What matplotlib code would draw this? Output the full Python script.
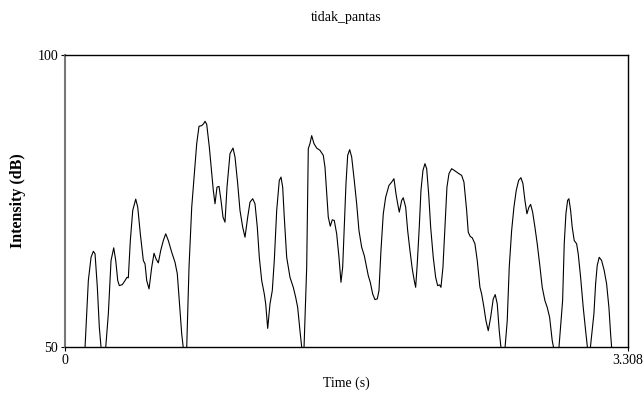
import matplotlib.pyplot as plt

plt.rcParams['font.family'] = ['Liberation Serif', 'DejaVu Serif']

title = 'tidak_pantas'
t_min, t_max = 0, 3.308
db_min, db_max = 50, 100

# intensity contour (values < 50 fall below the frame)
time_s = [0.112, 0.1175, 0.1369, 0.1528, 0.1663, 0.1763, 0.1898, 0.2015, 0.2115, 0.2250,
          0.2391, 0.2544, 0.2703, 0.2861, 0.2979, 0.3097, 0.3191, 0.3367, 0.3525, 0.3643,
          0.3719, 0.3837, 0.3978, 0.4154, 0.4272, 0.4424, 0.4601, 0.4701, 0.4800, 0.4936,
          0.5094, 0.5229, 0.5347, 0.5482, 0.5623, 0.5776, 0.5917, 0.6070, 0.6269, 0.6463,
          0.6598, 0.6716, 0.6857, 0.7080, 0.7151, 0.7286, 0.7445, 0.7597, 0.7738, 0.7873,
          0.8032, 0.8150, 0.8226, 0.8326, 0.8479, 0.8620, 0.8714, 0.8814, 0.8931, 0.9049,
          0.9166, 0.9284, 0.9401, 0.9519, 0.9695, 0.9871, 0.9989, 1.0147, 1.0282, 1.0441,
          1.0576, 1.0735, 1.0870, 1.1029, 1.1164, 1.1299, 1.1417, 1.1558, 1.1710, 1.1793,
          1.1910, 1.2045, 1.2180, 1.2298, 1.2439, 1.2591, 1.2692, 1.2791, 1.2885, 1.3026,
          1.3220, 1.3414, 1.3555, 1.3672, 1.3807, 1.4013, 1.4202, 1.4296, 1.4395, 1.4495,
          1.4630, 1.4789, 1.4983, 1.5177, 1.5277, 1.5377, 1.5471, 1.5588, 1.5706, 1.5823,
          1.5964, 1.6099, 1.6217, 1.6317, 1.6411, 1.6511, 1.6611, 1.6728, 1.6846, 1.6998,
          1.7139, 1.7274, 1.7433, 1.7586, 1.7727, 1.7821, 1.7939, 1.8080, 1.8215, 1.8350,
          1.8450, 1.8567, 1.8703, 1.8844, 1.9037, 1.9196, 1.9331, 1.9449, 1.9549, 1.9643,
          1.9784, 1.9878, 2.0019, 2.0136, 2.0271, 2.0406, 2.0524, 2.0606, 2.0700, 2.0818,
          2.0918, 2.1035, 2.1153, 2.1253, 2.1370, 2.1488, 2.1640, 2.1781, 2.1899, 2.2016,
          2.2093, 2.2210, 2.2328, 2.2445, 2.2563, 2.2721, 2.2874, 2.3015, 2.3150, 2.3309,
          2.3444, 2.3603, 2.3697, 2.3814, 2.3932, 2.4090, 2.4226, 2.4384, 2.4484, 2.4619,
          2.4737, 2.4872, 2.5013, 2.5166, 2.5283, 2.5401, 2.5518, 2.5753, 2.5988, 2.6106,
          2.6247, 2.6382, 2.6517, 2.6658, 2.6793, 2.6911, 2.7028, 2.7146, 2.7263, 2.7363,
          2.7481, 2.7616, 2.7751, 2.7892, 2.8045, 2.8203, 2.8339, 2.8480, 2.8633, 2.8938,
          2.9243, 2.9338, 2.9437, 2.9537, 2.9613, 2.9713, 2.9807, 2.9925, 3.0066, 3.0160,
          3.0301, 3.0454, 3.0595, 3.0789, 3.1082, 3.1182, 3.1276, 3.1394, 3.1535, 3.1688,
          3.1829, 3.1964, 3.2064, 3.2199]
intensity_db = [48.0, 49.9, 61.34, 65.34, 66.37, 65.93, 60.19, 53.32, 49.9, 47.0,
                49.9, 55.62, 64.78, 66.96, 64.78, 61.34, 60.48, 60.65, 61.34, 61.91,
                61.81, 68.21, 73.37, 75.31, 73.93, 69.36, 64.78, 64.21, 61.34, 59.91,
                63.63, 66.03, 65.07, 64.38, 66.50, 68.21, 69.36, 68.21, 66.20, 64.48,
                62.49, 57.90, 52.18, 46.5, 49.9, 63.63, 73.93, 79.67, 84.83, 87.80,
                87.92, 88.26, 88.66, 88.14, 84.24, 79.67, 76.80, 74.52, 77.37, 77.49,
                75.09, 72.22, 71.36, 77.37, 83.11, 84.07, 82.53, 77.96, 73.37, 70.50,
                68.78, 72.22, 74.79, 75.38, 74.52, 70.50, 65.34, 61.34, 59.05, 57.34,
                53.14, 57.34, 59.62, 64.78, 73.37, 78.52, 79.09, 77.37, 72.22, 65.34,
                61.91, 60.19, 58.47, 56.75, 52.75, 47.0, 63.63, 83.97, 84.83, 86.20,
                84.83, 84.07, 83.68, 82.82, 80.81, 76.24, 72.22, 70.67, 71.77, 71.65,
                69.36, 65.34, 61.05, 63.63, 70.50, 77.96, 82.82, 83.80, 82.53, 78.52,
                74.52, 69.93, 67.06, 65.64, 63.63, 62.20, 61.05, 59.05, 58.08, 58.20,
                59.62, 66.50, 72.80, 75.65, 77.66, 78.23, 78.81, 76.24, 74.52, 73.08,
                75.09, 75.55, 73.93, 69.93, 66.50, 63.35, 61.34, 60.19, 64.21, 70.50,
                76.80, 80.24, 81.39, 80.53, 76.24, 70.50, 65.34, 61.91, 60.48, 60.60,
                60.19, 63.63, 70.50, 77.37, 79.67, 80.53, 80.24, 79.95, 79.67, 79.38,
                78.23, 73.37, 69.64, 68.90, 68.68, 67.65, 64.78, 60.19, 59.05, 56.75,
                54.47, 52.75, 55.03, 58.20, 58.94, 57.34, 52.75, 46.0, 54.47, 63.63,
                69.93, 73.93, 76.80, 78.52, 78.99, 77.96, 75.09, 72.80, 73.93, 74.40,
                73.08, 70.50, 67.65, 64.21, 60.19, 57.90, 56.75, 55.03, 51.03, 46.5,
                57.90, 67.65, 72.80, 75.09, 75.38, 73.37, 70.50, 68.21, 67.65, 65.93,
                61.91, 56.75, 52.75, 47.5, 55.62, 60.77, 63.92, 65.34, 64.78, 63.06,
                60.77, 56.75, 52.18, 47.0]

fig = plt.figure(figsize=(6.44, 3.94), dpi=100)
ax = fig.add_axes([0.101, 0.120, 0.874, 0.740])

ax.plot(time_s, intensity_db, color='black', linewidth=0.8)

ax.set_xlim(t_min, t_max)
ax.set_ylim(db_min, db_max)
ax.set_xticks([t_min, t_max])
ax.set_xticklabels(['0', '3.308'])
ax.set_yticks([db_min, db_max])
ax.set_yticklabels(['50', '100'])
ax.tick_params(direction='out', length=3, width=0.8, labelsize=10, pad=2)

for side in ['top', 'right', 'bottom']:
    ax.spines[side].set_linewidth(1.0)
ax.spines['left'].set_color('#777777')
ax.spines['left'].set_linewidth(1.5)

ax.set_xlabel('Time (s)', fontsize=10, labelpad=7)
ax.set_ylabel('Intensity (dB)', fontsize=11.5, fontweight='bold', labelpad=8)
fig.text(0.538, 0.955, title, ha='center', va='center', fontsize=10)

fig.savefig('out.png', dpi=100)
